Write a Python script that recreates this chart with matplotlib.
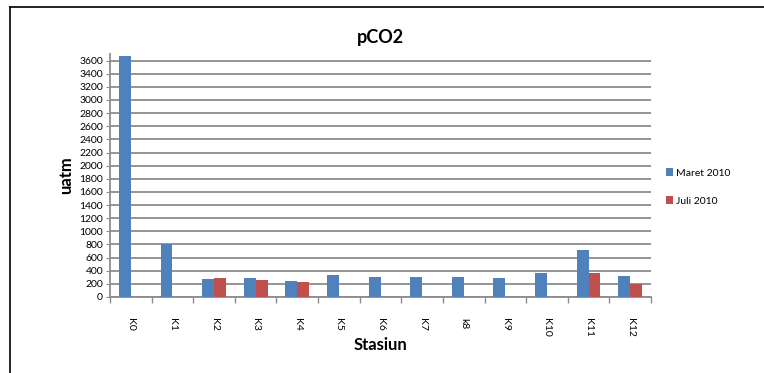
import matplotlib.pyplot as plt
import numpy as np

plt.rcParams['font.family'] = ['Lato', 'DejaVu Sans']

stasiun = ['K0', 'K1', 'K2', 'K3', 'K4', 'K5', 'K6', 'K7', 'k8', 'K9', 'K10', 'K11', 'K12']
maret_2010 = [3670, 800, 280, 285, 250, 335, 305, 305, 305, 290, 365, 715, 320]
juli_2010 = [0, 0, 295, 265, 235, 0, 0, 0, 0, 0, 0, 365, 200]

fig = plt.figure(figsize=(7.64, 3.73), dpi=100)
# outer chart frame (only top and left edges visible in the crop)
fig.add_artist(plt.Line2D([9.5/764, 1], [1 - 6.5/373] * 2, transform=fig.transFigure,
                          color='black', linewidth=1.2))
fig.add_artist(plt.Line2D([9.5/764] * 2, [0, 1 - 6.5/373], transform=fig.transFigure,
                          color='black', linewidth=1.2))
ax = fig.add_axes([110/764, 1 - 297/373, 541/764, 243/373])

x = np.arange(len(stasiun))
w = 0.285
ax.bar(x - w/2, maret_2010, w, color='#4F81BD', label='Maret 2010', zorder=3)
ax.bar(x + w/2, juli_2010, w, color='#C0504D', label='Juli 2010', zorder=3)

ax.set_xlim(-0.5, len(stasiun) - 0.5)
ax.set_ylim(0, 3700)
ax.set_yticks(np.arange(0, 3601, 200))
ax.tick_params(axis='y', labelsize=7.5, length=3, color='#8c8c8c', pad=2)
ax.yaxis.grid(True, color='#8c8c8c', linewidth=1.3, zorder=0)

ax.set_xticks(x)
ax.set_xticklabels(stasiun, rotation=-90, fontsize=7.5)
ax.tick_params(axis='x', length=0, pad=15)
ax.set_xticks(np.arange(-0.5, len(stasiun)), minor=True)
ax.tick_params(axis='x', which='minor', length=4, color='#8c8c8c', width=1)

for s in ['top', 'right']:
    ax.spines[s].set_visible(False)
for s in ['left', 'bottom']:
    ax.spines[s].set_color('#8c8c8c')
    ax.spines[s].set_linewidth(1.3)

ax.set_title('pCO2', fontsize=13, fontweight='bold', pad=8)
ax.set_ylabel('uatm', fontsize=12, fontweight='bold', labelpad=4)
ax.set_xlabel('Stasiun', fontsize=12, fontweight='bold', labelpad=0)

ax.legend(loc='center left', bbox_to_anchor=(1.01, 0.453), frameon=False, fontsize=7.5,
          handlelength=0.7, handleheight=0.7, handletextpad=0.3, labelspacing=1.8)

fig.savefig('out.png', dpi=100)
